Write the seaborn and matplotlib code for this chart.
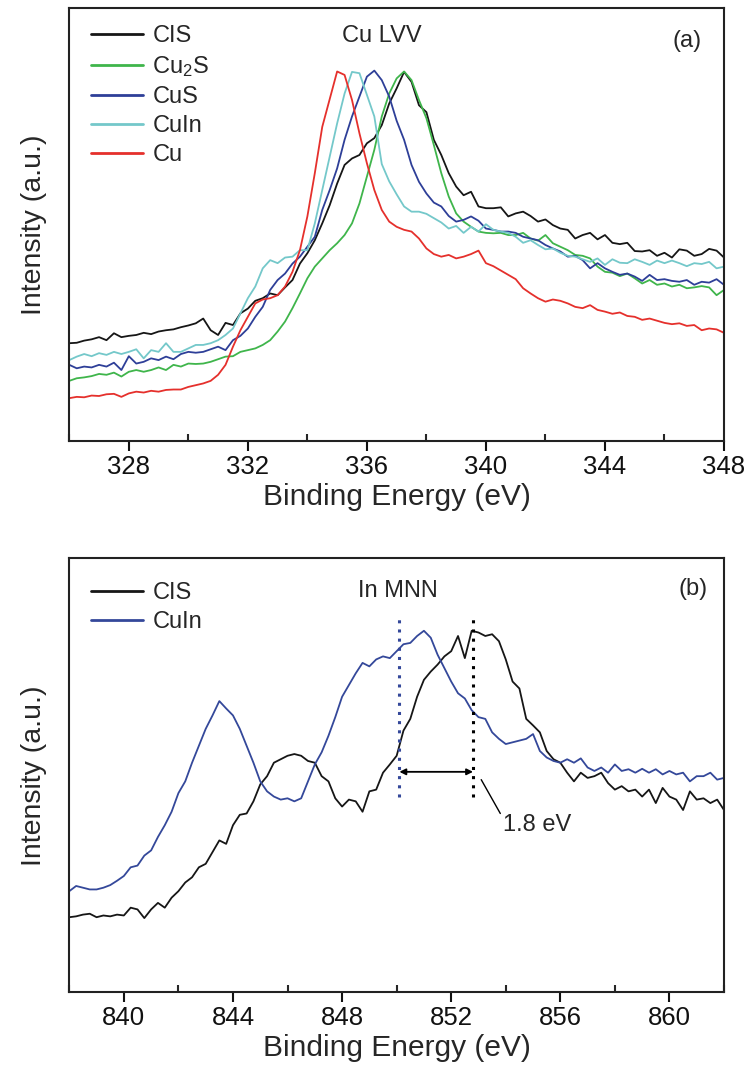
import numpy as np
import pandas as pd
import matplotlib
matplotlib.use("Agg")
import matplotlib.pyplot as plt
from matplotlib.ticker import MultipleLocator
import seaborn as sns

# ---------------- Cu LVV spectra (panel a) ----------------
energy_cu = np.arange(326.0, 348.001, 0.25)

cis_cu = [
    22.6, 22.7, 23.2, 23.5,  24.0, 23.3, 24.9, 24.0,  24.3, 24.5, 25.0, 24.7,
    25.3, 25.6, 25.8, 26.3,  26.7, 27.2, 28.3, 25.6,  24.5, 27.3, 26.8, 29.5,
    30.6, 32.4, 33.0, 34.1,  33.7, 35.5, 37.2, 41.0,  43.4, 46.4, 50.3, 54.5,
    59.5, 63.8, 65.3, 66.1,  68.8, 70.0, 73.0, 78.0,  81.5, 85.3, 83.0, 77.6,
    76.0, 69.6, 66.1, 61.9,  58.8, 56.8, 57.6, 54.2,  53.8, 53.8, 54.0, 51.9,
    52.6, 53.0, 52.0, 50.7,  51.2, 49.9, 49.1, 48.8,  46.8, 47.6, 48.1, 46.6,
    47.6, 45.8, 45.5, 45.8,  43.9, 43.8, 44.1, 42.8,  43.5, 42.4, 44.3, 44.0,
    42.8, 43.2, 44.4, 44.0,  42.4,
]
cu2s_cu = [
    13.9, 14.5, 14.7, 15.0,  15.5, 15.3, 15.8, 14.9,  16.0, 16.4, 16.0, 16.4,
    17.0, 16.4, 17.6, 17.2,  17.9, 17.8, 17.9, 18.3,  18.9, 19.5, 19.6, 20.6,
    21.0, 21.4, 22.2, 23.3,  25.3, 27.6, 30.7, 34.1,  37.6, 40.3, 42.2, 44.1,
    45.7, 47.6, 50.3, 54.9,  61.1, 67.3, 75.0, 80.3,  83.8, 85.4, 83.4, 78.8,
    74.6, 68.4, 61.9, 56.5,  52.6, 50.7, 49.5, 48.4,  48.1, 48.0, 48.1, 47.6,
    47.6, 48.1, 46.8, 46.3,  47.6, 45.7, 44.9, 44.1,  43.0, 42.8, 42.2, 40.3,
    39.1, 38.9, 38.1, 38.7,  37.6, 36.4, 37.2, 36.1,  36.4, 35.7, 36.1, 35.3,
    35.5, 35.8, 35.5, 33.7,  34.9,
]
cus_cu = [
    17.6, 16.8, 17.2, 17.0,  17.6, 17.2, 18.1, 16.4,  19.6, 17.9, 18.3, 19.1,
    18.7, 19.5, 18.9, 20.1,  20.6, 20.4, 20.6, 21.2,  21.8, 21.0, 23.3, 24.3,
    26.0, 28.7, 31.0, 34.9,  37.2, 38.7, 41.0, 42.6,  44.9, 47.2, 53.4, 58.0,
    63.0, 69.6, 75.0, 79.6,  84.2, 85.6, 83.4, 79.6,  74.0, 69.6, 63.8, 59.9,
    57.2, 55.1, 54.2, 52.0,  50.7, 51.1, 51.9, 50.9,  49.1, 48.8, 48.4, 48.4,
    48.1, 47.2, 46.8, 46.4,  45.3, 44.5, 43.8, 42.6,  42.8, 41.8, 39.9, 41.1,
    39.9, 39.1, 38.4, 38.7,  38.0, 37.0, 38.4, 37.2,  37.4, 37.0, 36.8, 37.2,
    36.1, 36.8, 36.6, 37.4,  36.1,
]
cuin_cu = [
    18.7, 19.5, 20.1, 19.6,  20.3, 19.9, 20.6, 20.1,  20.6, 21.2, 19.1, 21.0,
    20.6, 22.6, 20.6, 20.6,  21.4, 22.2, 22.2, 22.6,  23.3, 24.5, 26.0, 29.5,
    33.0, 35.7, 39.9, 41.8,  41.1, 42.4, 42.6, 44.1,  44.1, 50.3, 58.0, 65.7,
    73.4, 80.3, 85.3, 85.0,  80.0, 75.0, 64.0, 60.0,  57.0, 54.2, 53.0, 53.0,
    52.5, 51.5, 50.5, 49.1,  49.7, 48.1, 49.5, 48.4,  50.1, 48.8, 48.4, 48.1,
    47.2, 45.8, 46.4, 45.3,  44.3, 44.5, 43.5, 42.8,  42.6, 42.0, 41.4, 42.2,
    40.7, 42.0, 41.2, 41.1,  42.0, 41.4, 40.7, 41.7,  41.1, 41.7, 41.1, 40.4,
    41.1, 40.9, 41.4, 39.9,  40.3,
]
cu_cu = [
    9.9, 10.2, 10.1, 10.5,   10.4, 10.8, 10.9, 10.2,  11.0, 11.4, 11.2, 11.6,
    11.4, 11.8, 11.9, 11.9,  12.5, 12.9, 13.3, 13.9,  15.3, 17.6, 21.8, 25.6,
    28.7, 31.8, 32.7, 33.0,  33.7, 35.7, 39.1, 44.1,  51.9, 61.9, 72.6, 79.0,
    85.4, 84.6, 78.8, 71.1,  64.2, 58.0, 53.4, 50.7,  49.5, 48.8, 48.4, 46.8,
    44.5, 43.2, 42.6, 43.0,  42.2, 42.6, 43.2, 44.0,  41.1, 40.4, 39.4, 38.4,
    37.4, 35.3, 34.1, 33.0,  32.2, 32.7, 32.4, 31.8,  31.0, 30.7, 31.4, 30.3,
    29.9, 29.4, 29.7, 28.9,  28.7, 28.0, 28.3, 27.8,  27.3, 27.0, 27.2, 26.6,
    26.8, 25.6, 26.0, 25.8,  25.0,
]

samples_a = ["CIS", "Cu$_2$S", "CuS", "CuIn", "Cu"]
colors_a = ["#161616", "#3fb54b", "#2e3f98", "#74c8ca", "#e5302c"]

# ---------------- In MNN spectra (panel b) ----------------
energy_in = np.arange(838.0, 862.001, 0.25)

cis_in = [
    17.3, 17.5, 17.9, 18.1,  17.3, 17.7, 17.5, 17.9,  17.7, 19.5, 19.1, 17.1,
    19.1, 20.6, 19.5, 21.8,  23.3, 25.3, 26.5, 28.8,  29.6, 32.3, 35.0, 34.2,
    38.5, 40.9, 41.2, 44.0,  47.9, 49.8, 52.9, 53.7,  54.5, 54.9, 54.5, 53.3,
    52.9, 49.8, 48.6, 44.7,  42.8, 44.4, 44.0, 41.6,  46.3, 46.7, 50.6, 52.5,
    54.5, 60.3, 63.0, 68.1,  72.0, 73.9, 75.5, 77.4,  78.6, 82.1, 77.0, 83.3,
    82.9, 82.1, 82.5, 80.9,  76.7, 71.6, 70.0, 63.0,  61.5, 59.9, 55.6, 53.7,
    52.9, 50.6, 48.6, 50.6,  49.4, 49.8, 50.6, 48.2,  46.7, 47.5, 46.3, 46.7,
    45.1, 46.7, 43.6, 47.1,  45.1, 44.4, 42.0, 46.3,  44.4, 44.7, 43.6, 44.4,
    42.0,
]
cuin_in = [
    23.3, 24.5, 24.1, 23.7,  23.7, 24.1, 24.7, 25.7,  26.8, 28.8, 29.2, 31.5,
    32.7, 35.8, 38.5, 41.6,  45.9, 48.6, 52.9, 56.8,  60.7, 63.8, 67.1, 65.4,
    63.8, 60.7, 56.8, 52.9,  48.6, 46.3, 45.1, 44.4,  44.7, 44.0, 44.7, 48.6,
    52.5, 55.3, 59.1, 63.4,  68.1, 70.8, 73.5, 75.9,  75.1, 76.7, 77.4, 77.0,
    78.6, 80.2, 80.5, 82.1,  83.3, 81.7, 77.8, 74.7,  71.6, 68.9, 67.7, 65.0,
    63.4, 63.0, 59.9, 58.4,  57.2, 57.6, 58.0, 58.4,  59.5, 55.6, 54.1, 53.3,
    52.9, 53.7, 52.9, 53.9,  51.8, 51.0, 51.8, 50.6,  52.5, 51.0, 51.4, 50.6,
    51.5, 50.6, 51.4, 50.2,  51.0, 50.2, 50.6, 48.6,  49.8, 49.8, 50.6, 49.0,
    49.4,
]

samples_b = ["CIS", "CuIn"]
colors_b = ["#161616", "#34489a"]

# Peak positions marked with dotted guides, and the quoted shift
peak_cuin = 850.1
peak_cis = 852.8
shift_label = "1.8 eV"

# ---------------- long-form tables for seaborn ----------------
df_a = pd.concat([
    pd.DataFrame({"energy": energy_cu, "intensity": vals, "sample": name})
    for name, vals in zip(samples_a, [cis_cu, cu2s_cu, cus_cu, cuin_cu, cu_cu])
], ignore_index=True)
df_b = pd.concat([
    pd.DataFrame({"energy": energy_in, "intensity": vals, "sample": name})
    for name, vals in zip(samples_b, [cis_in, cuin_in])
], ignore_index=True)

# ---------------- styling ----------------
sns.set_style("ticks")
plt.rcParams["font.family"] = ["Liberation Sans", "DejaVu Sans"]
plt.rcParams["mathtext.default"] = "regular"
plt.rcParams["axes.linewidth"] = 1.5

W, H = 751, 1067
fig = plt.figure(figsize=(W / 100, H / 100), dpi=100)


def frame_axes(left, top, right, bottom):
    return fig.add_axes([left / W, 1 - bottom / H, (right - left) / W, (bottom - top) / H])


ax_a = frame_axes(69.3, 8.3, 724.0, 441.0)
ax_b = frame_axes(69.3, 558.3, 724.0, 992.3)

sns.lineplot(data=df_a, x="energy", y="intensity", hue="sample", hue_order=samples_a,
             palette=colors_a, estimator=None, sort=False, linewidth=1.3, ax=ax_a)
sns.lineplot(data=df_b, x="energy", y="intensity", hue="sample", hue_order=samples_b,
             palette=colors_b, estimator=None, sort=False, linewidth=1.3, ax=ax_b)

for ax, (x0, x1), anchor_y in ((ax_a, (326, 348), 1.0), (ax_b, (838, 862), 0.984)):
    ax.set_xlim(x0, x1)
    ax.set_ylim(0, 100)
    ax.set_yticks([])
    ax.xaxis.set_major_locator(MultipleLocator(4))
    ax.xaxis.set_minor_locator(MultipleLocator(2))
    ax.tick_params(axis="x", which="major", direction="out", length=7, width=1.5,
                   labelsize=18.5, pad=3, colors="#111111")
    ax.tick_params(axis="x", which="minor", direction="in", length=5, width=1.5)
    for sp in ax.spines.values():
        sp.set_visible(True)
        sp.set_linewidth(1.5)
        sp.set_color("#222222")
    ax.set_xlabel("Binding Energy (eV)", fontsize=21.5, labelpad=3)
    ax.set_ylabel("Intensity (a.u.)", fontsize=20.5, labelpad=16)
    ax.legend(loc="upper left", frameon=False, fontsize=17, handlelength=2.2,
              handletextpad=0.4, labelspacing=0.3, borderaxespad=0.3,
              bbox_to_anchor=(0.008, anchor_y))
    for line in ax.get_legend().get_lines():
        line.set_linewidth(2.0)

ax_a.text(0.478, 0.935, "Cu LVV", transform=ax_a.transAxes, ha="center", va="center", fontsize=17)
ax_a.text(0.943, 0.925, "(a)", transform=ax_a.transAxes, ha="center", va="center", fontsize=17)
ax_b.text(0.502, 0.925, "In MNN", transform=ax_b.transAxes, ha="center", va="center", fontsize=17)
ax_b.text(0.953, 0.93, "(b)", transform=ax_b.transAxes, ha="center", va="center", fontsize=17)

# dotted peak markers, shift arrow and its label
ax_b.vlines(peak_cuin, 45, 87, colors=colors_b[1], linestyles=(0, (1, 2)), linewidth=2.2)
ax_b.vlines(peak_cis, 45, 87, colors="black", linestyles=(0, (1, 2)), linewidth=2.2)
ax_b.annotate("", xy=(peak_cis, 50.8), xytext=(peak_cuin, 50.8),
              arrowprops=dict(arrowstyle="<|-|>", color="black", lw=1.3,
                              mutation_scale=9, shrinkA=0, shrinkB=0))
ax_b.plot([853.1, 853.8], [49.0, 41.2], color="black", linewidth=1.0)
ax_b.text(853.9, 38.5, shift_label, ha="left", va="center", fontsize=17)

fig.savefig("out.png", dpi=100)
